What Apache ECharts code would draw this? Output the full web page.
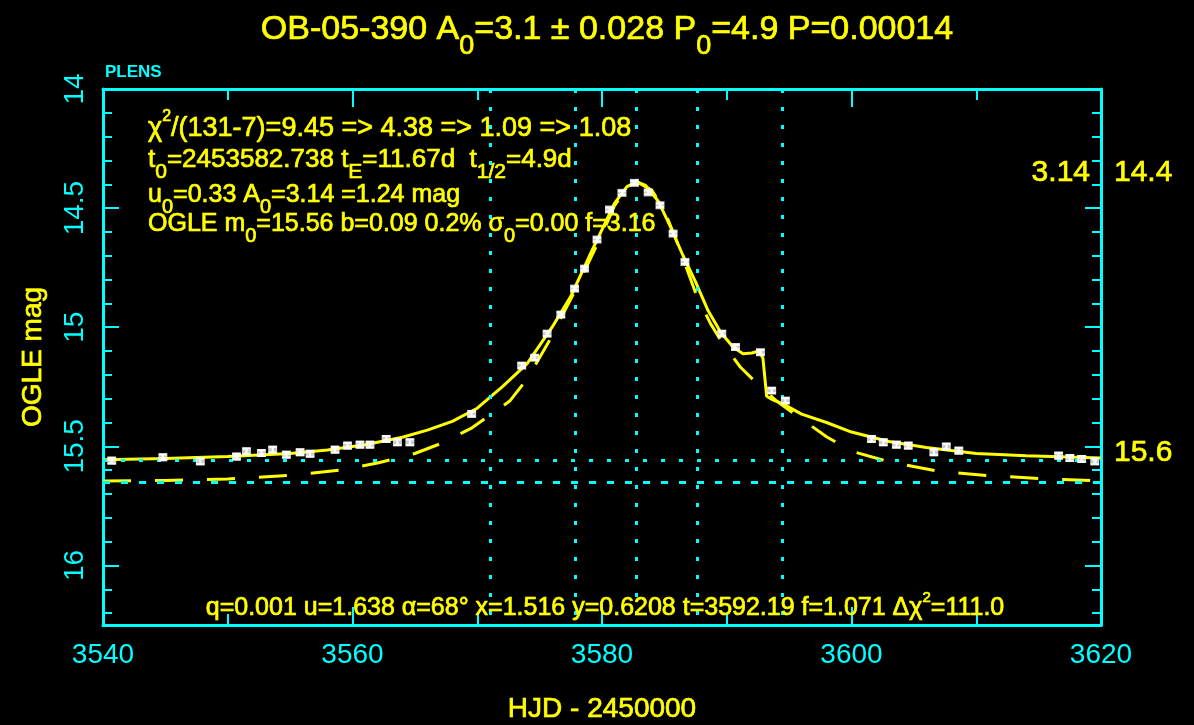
<!DOCTYPE html>
<html><head><meta charset="utf-8">
<script src="https://cdn.jsdelivr.net/npm/echarts@6.0.0/dist/echarts.min.js"></script>
<style>html,body{margin:0;padding:0;background:#000;}#c{width:1194px;height:725px;}</style>
</head><body><div id="c"></div>
<script>
// ---- data ----
const obsT = [3540.7, 3544.8, 3547.8, 3550.7, 3551.5, 3552.7, 3553.6, 3554.7, 3555.8, 3556.6, 3558.6, 3559.6, 3560.6, 3561.4, 3562.7, 3563.6, 3564.6, 3569.55, 3573.56, 3574.6, 3575.6, 3576.7, 3577.8, 3578.6, 3579.6, 3580.6, 3581.6, 3582.6, 3583.7, 3584.65, 3585.7, 3586.65, 3589.6, 3590.7, 3592.7, 3593.6, 3594.7, 3601.6, 3602.55, 3603.6, 3604.55, 3606.6, 3607.6, 3608.6, 3616.6, 3617.5, 3618.45, 3619.5];
const obsMag = [15.560, 15.546, 15.563, 15.543, 15.521, 15.528, 15.514, 15.535, 15.525, 15.531, 15.514, 15.497, 15.493, 15.493, 15.469, 15.483, 15.483, 15.364, 15.161, 15.128, 15.027, 14.947, 14.838, 14.754, 14.632, 14.506, 14.436, 14.394, 14.434, 14.488, 14.607, 14.726, 15.027, 15.083, 15.105, 15.266, 15.308, 15.469, 15.483, 15.493, 15.497, 15.525, 15.501, 15.518, 15.539, 15.549, 15.553, 15.563];
const obsErr = [0.012, 0.012, 0.012, 0.012, 0.012, 0.012, 0.012, 0.012, 0.012, 0.012, 0.012, 0.012, 0.012, 0.012, 0.012, 0.012, 0.012, 0.010, 0.010, 0.010, 0.010, 0.010, 0.008, 0.008, 0.008, 0.008, 0.008, 0.008, 0.008, 0.008, 0.008, 0.008, 0.010, 0.010, 0.010, 0.010, 0.010, 0.012, 0.012, 0.012, 0.012, 0.012, 0.012, 0.012, 0.012, 0.012, 0.012, 0.012];

const fitT = [3540, 3545, 3550, 3555, 3558, 3561, 3564, 3566, 3568, 3570, 3572, 3574, 3576, 3577.5, 3579, 3580, 3581, 3582, 3582.8, 3583.5, 3584.5, 3585.5, 3586.5, 3587.5, 3588.5, 3589.5, 3590.5, 3591.3, 3592, 3592.6, 3592.9, 3593.2, 3593.7, 3594.5, 3596, 3598, 3600, 3603, 3606, 3610, 3614, 3620];
const fitMag = [15.556, 15.551, 15.543, 15.530, 15.515, 15.493, 15.462, 15.432, 15.395, 15.34, 15.25, 15.153, 15.00, 14.87, 14.70, 14.59, 14.48, 14.41, 14.39, 14.405, 14.47, 14.58, 14.70, 14.81, 14.93, 15.02, 15.083, 15.111, 15.108, 15.10, 15.13, 15.29, 15.305, 15.322, 15.365, 15.40, 15.44, 15.48, 15.505, 15.53, 15.54, 15.549];

const altT = [3540, 3545, 3550, 3555, 3559, 3562, 3565, 3567, 3569.5, 3571, 3572.6, 3574, 3575.8, 3578, 3580, 3581, 3582, 3582.8, 3584, 3585, 3586, 3587.6, 3588.7, 3589.7, 3591.1, 3592.5, 3594, 3596, 3598, 3600, 3603, 3607, 3611, 3615, 3620];
const altMag = [15.645, 15.643, 15.637, 15.622, 15.600, 15.570, 15.53, 15.49, 15.425, 15.37, 15.31, 15.217, 15.055, 14.83, 14.61, 14.49, 14.415, 14.39, 14.425, 14.51, 14.64, 14.87, 14.985, 15.07, 15.168, 15.24, 15.31, 15.385, 15.46, 15.52, 15.565, 15.605, 15.623, 15.635, 15.645];

const eventLines = [3571.07, 3577.84, 3582.738, 3587.64, 3594.41];
const baseMag = 15.56;
const altBaseMag = 15.65;
const xMin = 3540, xMax = 3620, xStep = 20;
const yMin = 14, yMax = 16.25, yStep = 0.5;

// ---- styling ----
const CY = '#00ffff', YE = '#ffff00', WH = '#ffffff';
const FF = "'Liberation Sans', Arial, sans-serif";

function rich(F, hasSup) {
  const P = hasSup ? Math.round(F * 0.22) : 0;
  const base = {color: YE, fontFamily: FF, fontWeight: 'normal', textBorderColor: YE, textBorderWidth: 0.7};
  return {
    n: Object.assign({}, base, {fontSize: F, lineHeight: F, verticalAlign: 'top', padding: [P, 0, 0, 0]}),
    s: Object.assign({}, base, {fontSize: Math.round(F * 0.8), lineHeight: Math.round(F * 1.37) + P, verticalAlign: 'bottom'}),
    p: Object.assign({}, base, {fontSize: Math.round(F * 0.6), lineHeight: Math.round(F * 0.6), verticalAlign: 'top'})
  };
}
function rt(parts) { return parts.map(p => '{' + p[0] + '|' + p[1] + '}').join(''); }
function txt(parts, F, left, top, align) {
  const hasSup = parts.some(p => p[0] === 'p');
  return {text: rt(parts), left: left, top: top, textAlign: align || 'left', padding: 0,
    textStyle: {fontWeight: 'normal', rich: rich(F, hasSup)}};
}
function plain(s, F, color, left, top, align, family) {
  return {text: s, left: left, top: top, textAlign: align || 'left', padding: 0,
    textStyle: {color: color, fontFamily: family || FF, fontSize: F, fontWeight: 'normal',
      textBorderColor: color, textBorderWidth: 0.7}};
}

const titles = [
  txt([['n','OB-05-390 A'],['s','0'],['n','=3.1 ± 0.028 P'],['s','0'],['n','=4.9 P=0.00014']], 34, 607, 13, 'center'),
  txt([['n','χ'],['p','2'],['n','/(131-7)=9.45 => 4.38 => 1.09 => 1.08']], 27, 148, 109),
  txt([['n','t'],['s','0'],['n','=2453582.738 t'],['s','E'],['n','=11.67d  t'],['s','1/2'],['n','=4.9d']], 26, 148, 147),
  txt([['n','u'],['s','0'],['n','=0.33 A'],['s','0'],['n','=3.14 =1.24 mag']], 25, 148, 183),
  txt([['n','OGLE m'],['s','0'],['n','=15.56 b=0.09 0.2% σ'],['s','0'],['n','=0.00 f=3.16']], 25, 148, 212),
  txt([['n','q=0.001 u=1.638 α=68° x=1.516 y=0.6208 t=3592.19 f=1.071 Δχ'],['p','2'],['n','=111.0']], 25, 605, 590, 'center'),
  {text: 'PLENS', left: 105, top: 64, padding: 0, textStyle: {color: CY, fontFamily: "'Liberation Sans Narrow', 'Liberation Sans', sans-serif", fontSize: 17, fontWeight: 'bold'}},
  plain('3.14', 30, YE, 1090, 158, 'right'),
  plain('14.4', 30, YE, 1114, 158),
  plain('15.6', 30, YE, 1114, 438)
];

const pts = obsT.map((t, i) => [t, obsMag[i], obsErr[i]]);
const fitData = fitT.map((t, i) => [t, fitMag[i]]);
const altData = altT.map((t, i) => [t, altMag[i]]);

function xAxisCfg(pos, labels) {
  return {
    type: 'value', position: pos, min: xMin, max: xMax, interval: xStep,
    axisLine: {show: true, onZero: false, lineStyle: {color: CY, width: 3}},
    axisTick: {show: true, inside: true, length: 18, lineStyle: {color: CY, width: 2}},
    minorTick: {show: true, splitNumber: 2, length: 11, lineStyle: {color: CY, width: 2}},
    splitLine: {show: false}, minorSplitLine: {show: false},
    axisLabel: {show: labels, color: CY, fontFamily: FF, fontSize: 28, margin: 16, formatter: v => String(v)},
    name: labels ? 'HJD - 2450000' : '', nameLocation: 'middle', nameGap: 70,
    nameTextStyle: {color: YE, fontFamily: FF, fontSize: 28, textBorderColor: YE, textBorderWidth: 0.7}
  };
}
function yAxisCfg(pos, step, len, major) {
  return {
    type: 'value', position: pos, inverse: true, min: yMin, max: yMax, interval: step,
    axisLine: {show: major, onZero: false, lineStyle: {color: CY, width: 3}},
    axisTick: {show: true, inside: true, length: len, lineStyle: {color: CY, width: 2}},
    splitLine: {show: false},
    axisLabel: {show: major && pos === 'left', color: CY, fontFamily: FF, fontSize: 28, rotate: 90, margin: 14,
      formatter: v => (Math.abs(v * 2 - Math.round(v * 2)) < 1e-6 ? String(Math.round(v * 10) / 10) : '')},
    name: (major && pos === 'left') ? 'OGLE mag' : '', nameLocation: 'middle', nameGap: 56, nameRotate: 90,
    nameTextStyle: {color: YE, fontFamily: FF, fontSize: 28, textBorderColor: YE, textBorderWidth: 0.7}
  };
}

const chart = echarts.init(document.getElementById('c'), null, {renderer: 'canvas'});
chart.setOption({
  backgroundColor: '#000',
  animation: false,
  title: titles,
  grid: {left: 103, right: 93, top: 89, bottom: 100, containLabel: false, outerBoundsMode: 'none'},
  xAxis: [xAxisCfg('bottom', true), xAxisCfg('top', false)],
  yAxis: [yAxisCfg('left', yStep, 16, true), yAxisCfg('right', yStep, 16, true),
          yAxisCfg('left', 0.1, 9, false), yAxisCfg('right', 0.1, 9, false)],
  series: [
    {
      type: 'line', name: 'guides', data: [], silent: true,
      markLine: {
        symbol: 'none', silent: true, label: {show: false}, animation: false,
        lineStyle: {color: CY, width: 3, type: [4, 14]},
        data: eventLines.map(v => ({xAxis: v}))
          .concat([{yAxis: baseMag, lineStyle: {color: CY, width: 3, type: [4, 14]}},
                   {yAxis: altBaseMag, lineStyle: {color: CY, width: 3, type: [7, 11]}}])
      }
    },
    {
      type: 'line', name: 'alt', data: altData, showSymbol: false, silent: true, z: 3,
      lineStyle: {color: YE, width: 3, type: [28, 24]}
    },
    {
      type: 'line', name: 'fit', data: fitData, showSymbol: false, silent: true, z: 4,
      lineStyle: {color: YE, width: 3}
    },
    {
      type: 'custom', name: 'err', data: pts, z: 5, silent: true,
      renderItem: function (params, api) {
        const t = api.value(0), m = api.value(1), e = api.value(2);
        const a = api.coord([t, m - e]), b = api.coord([t, m + e]);
        const w = 4;
        return {type: 'group', children: [
          {type: 'line', shape: {x1: a[0], y1: a[1], x2: b[0], y2: b[1]}, style: {stroke: WH, lineWidth: 2}},
          {type: 'line', shape: {x1: a[0] - w, y1: a[1], x2: a[0] + w, y2: a[1]}, style: {stroke: WH, lineWidth: 2}},
          {type: 'line', shape: {x1: b[0] - w, y1: b[1], x2: b[0] + w, y2: b[1]}, style: {stroke: WH, lineWidth: 2}}
        ]};
      }
    },
    {
      type: 'scatter', name: 'obs', data: pts, symbol: 'rect', symbolSize: [9, 8], z: 6, silent: true,
      itemStyle: {color: WH}
    }
  ]
});
</script></body></html>
